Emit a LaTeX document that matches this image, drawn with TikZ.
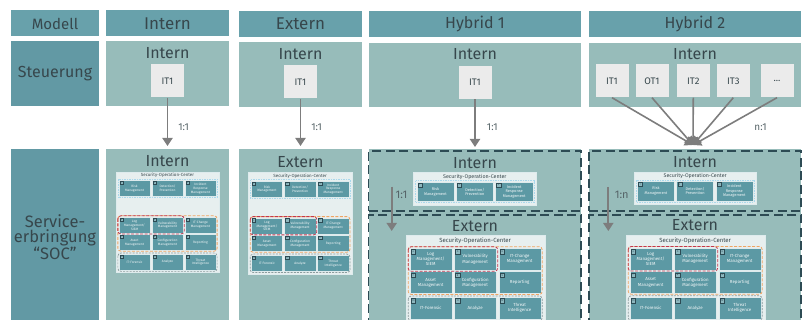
\documentclass[tikz,border=0pt]{standalone}
\usepackage{fontspec}
\setmainfont{Fira Sans}
\usetikzlibrary{arrows.meta}
\definecolor{hdr}{HTML}{68A1AB}
\definecolor{side}{HTML}{6299A4}
\definecolor{lite}{HTML}{97BCBA}
\definecolor{itbox}{HTML}{EBEBEB}
\definecolor{txt}{HTML}{37474C}
\definecolor{arr}{HTML}{7D7D7D}
\definecolor{dashc}{HTML}{2D4B54}
\definecolor{cellc}{HTML}{5C99A4}
\definecolor{socbgc}{HTML}{E7EFEF}
\definecolor{gblue}{HTML}{A9D8EC}
\definecolor{gorange}{HTML}{EFA463}
\definecolor{gred}{HTML}{C2374F}
\definecolor{ggray}{HTML}{8C9C9E}
\tikzset{
 hdrbox/.style={fill=hdr, inner sep=0pt, text=txt, minimum height=26pt},
 sidebox/.style={fill=side, inner sep=0pt, text=txt, align=center},
 litebox/.style={fill=lite, inner sep=0pt},
 itnode/.style={fill=itbox, inner sep=0pt, minimum size=33pt, text=txt, font=\fontsize{9.5}{11}\selectfont},
 ttl/.style={text=txt, inner sep=0pt, font=\fontsize{16}{18}\selectfont},
 ratio/.style={text=txt!85!white, inner sep=0pt, font=\fontsize{10}{12}\selectfont},
 flow/.style={draw=arr, line width=1.9pt, -{Triangle[width=10pt,length=8pt]}},
 flowthin/.style={draw=arr, line width=1.6pt, -{Triangle[width=10pt,length=8pt]}},
 hybbox/.style={draw=dashc, line width=1.6pt, dash pattern=on 9pt off 4.5pt, inner sep=0pt},
 cellbox/.style={fill=cellc, draw=white!80!cellc, line width=0.4pt, inner sep=0pt,
   minimum width=42pt, minimum height=22pt, text=white!92!cellc, align=center,
   font=\fontsize{4.4}{5.2}\selectfont},
 numbox/.style={fill=cellc!70!white, draw=dashc, line width=0.35pt, inner sep=0pt,
   minimum size=4.6pt, text=dashc, font=\fontsize{2.6}{3}\selectfont},
 socbg/.style={fill=socbgc, draw=white!80!cellc, line width=0.4pt, inner sep=0pt, anchor=north west},
 soctitle/.style={text=txt, inner sep=0pt, font=\fontsize{6}{7}\selectfont},
 gbl/.style={draw=gblue, line width=0.7pt, dash pattern=on 1.5pt off 1pt},
 gor/.style={draw=gorange, line width=0.8pt, dash pattern=on 3pt off 1.5pt, rounded corners=3pt},
 gre/.style={draw=gred, line width=0.8pt, dash pattern=on 3pt off 1.5pt, rounded corners=3pt},
 ggr/.style={draw=ggray, line width=0.7pt, dash pattern=on 2pt off 1.2pt, rounded corners=3pt},
}
\newcommand\soccell[5]{%
 \node[cellbox] (#1) at (#2+21,#3+11) {#5};
 \node[numbox] (#1n) at (#2+3.5,#3+3.5) {#4};}
\newcommand\socrowA[2]{%
 \soccell{#1-1}{4}{#2}{1}{Risk\\Management}
 \soccell{#1-2}{48.5}{#2}{2}{Detection/\\Prevention}
 \soccell{#1-3}{93}{#2}{3}{Incident\\Response\\Management}
 \draw[gbl] (2.5,#2-1.5) rectangle (136.5,#2+23.5);}
\newcommand\socrowsB[4]{%
 \soccell{#1-4}{4}{#2}{4}{Log\\Management/\\SIEM}
 \soccell{#1-5}{48.5}{#2}{5}{Vulnerability\\Management}
 \soccell{#1-6}{93}{#2}{6}{IT-Change\\Management}
 \soccell{#1-7}{4}{#3}{7}{Asset\\Management}
 \soccell{#1-8}{48.5}{#3}{8}{Configuration\\Management}
 \soccell{#1-9}{93}{#3}{9}{Reporting}
 \soccell{#1-10}{4}{#4}{10}{IT-Forensic}
 \soccell{#1-11}{48.5}{#4}{11}{Analyze}
 \soccell{#1-12}{93}{#4}{12}{Threat\\Intelligence}
 \draw[gor] (2.5,#2-1.5) rectangle (136.5,#3+22.8);
 \draw[gre] (2.5,#2-1.5) rectangle (92,#2+23);
 \draw[ggr] (2.5,#4-1.2) rectangle (136.5,#4+23.5);}
\begin{document}
\begin{tikzpicture}[x=1pt,y=-1pt]
\useasboundingbox (0,0) rectangle (806,320);
\clip (0,0) rectangle (806,320);
% header row
\node[hdrbox, minimum width=88.6pt, font=\fontsize{15}{17}\selectfont] (hm) at (55,23.5) {Modell};
\node[hdrbox, minimum width=123pt, font=\fontsize{17}{19}\selectfont] (hi) at (167.5,23.5) {Intern};
\node[hdrbox, minimum width=123pt, font=\fontsize{17}{19}\selectfont] (he) at (300.5,24) {Extern};
\node[hdrbox, minimum width=212pt, font=\fontsize{16}{18}\selectfont] (hh1) at (475,24) {Hybrid 1};
\node[hdrbox, minimum width=212pt, font=\fontsize{16}{18}\selectfont] (hh2) at (695,24) {Hybrid 2};
% Steuerung row
\node[sidebox, minimum width=88.6pt, minimum height=65pt, font=\fontsize{16}{18}\selectfont] (st) at (55,74) {Steuerung};
\node[litebox, minimum width=123pt, minimum height=65pt] (s1) at (167.5,74) {};
\node[litebox, minimum width=123pt, minimum height=65pt] (s2) at (300.5,74.5) {};
\node[litebox, minimum width=212pt, minimum height=64pt] (s3) at (475,75) {};
\node[litebox, minimum width=212pt, minimum height=64pt] (s4) at (695,75) {};
\node[ttl] (st1) at (167.5,53.5) {Intern};
\node[ttl] (st2) at (300.5,54) {Intern};
\node[ttl] (st3) at (475,54) {Intern};
\node[ttl] (st4) at (695,54) {Intern};
\node[itnode] (i1) at (167.5,81) {IT1};
\node[itnode] (i2) at (300.5,82) {IT1};
\node[itnode] (i3) at (475,82.5) {IT1};
\node[itnode] (ha) at (612,81) {IT1};
\node[itnode] (hb) at (652,81) {OT1};
\node[itnode] (hc) at (693.3,81) {IT2};
\node[itnode] (hd) at (733.3,81) {IT3};
\node[itnode] (hx) at (777,81) {...};
% bottom row
\node[sidebox, minimum width=88.6pt, minimum height=176pt, font=\fontsize{16.5}{15}\selectfont] (se) at (55,237) {Service-\\erbringung\\“SOC”};
\node[litebox, minimum width=123pt, minimum height=176pt] (b1) at (167.5,237) {};
\node[litebox, minimum width=123pt, minimum height=176pt] (b2) at (300.5,237) {};
\node[litebox, minimum width=212pt, minimum height=176pt] (b3) at (475,237) {};
\node[litebox, minimum width=212pt, minimum height=176pt] (b4) at (695,237) {};
\node[ttl] (bt1) at (167.5,161) {Intern};
\node[ttl] (bt2) at (300.5,162) {Extern};
% hybrid dashed boxes
\node[hybbox, minimum width=212.5pt, minimum height=60pt] (h1i) at (474.8,181) {};
\node[hybbox, minimum width=212.5pt, minimum height=120pt] (h1e) at (474.8,275) {};
\node[hybbox, minimum width=212.5pt, minimum height=60pt] (h2i) at (695,181) {};
\node[hybbox, minimum width=212.5pt, minimum height=120pt] (h2e) at (695,275) {};
\node[ttl] (h1it) at (475,162.7) {Intern};
\node[ttl] (h1et) at (475,226) {Extern};
\node[ttl] (h2it) at (695,162.5) {Intern};
\node[ttl] (h2et) at (695,225.5) {Extern};
% SOC col 1
\begin{scope}[shift={(116,171.7)},scale=0.741,transform shape]
 \node[socbg, minimum width=139pt, minimum height=136pt] (soc1) at (0,0) {};
 \node[soctitle] (soc1t) at (69.5,5) {Security-Operation-Center};
 \socrowA{a}{11.5}
 \socrowsB{a}{61}{84.5}{111}
\end{scope}
% SOC col 2
\begin{scope}[shift={(248.3,172.3)},scale=0.745,transform shape]
 \node[socbg, minimum width=139pt, minimum height=136pt] (soc2) at (0,0) {};
 \node[soctitle] (soc2t) at (69.5,5) {Security-Operation-Center};
 \socrowA{b}{11.5}
 \socrowsB{b}{61}{84.5}{111}
\end{scope}
% Hybrid 1 intern
\begin{scope}[shift={(413.3,172.3)},scale=0.885,transform shape]
 \node[socbg, minimum width=139pt, minimum height=36.5pt] (soc3) at (0,0) {};
 \node[soctitle] (soc3t) at (69.5,5) {Security-Operation-Center};
 \socrowA{c}{11}
\end{scope}
% Hybrid 2 intern
\begin{scope}[shift={(634,171.7)},scale=0.88,transform shape]
 \node[socbg, minimum width=139pt, minimum height=36.5pt] (soc4) at (0,0) {};
 \node[soctitle] (soc4t) at (69.5,5) {Security-Operation-Center};
 \socrowA{d}{11}
\end{scope}
% Hybrid 1 extern
\begin{scope}[shift={(405.7,235.2)}]
 \node[socbg, minimum width=139pt, minimum height=100pt] (soc5) at (0,0) {};
 \node[soctitle] (soc5t) at (69.5,5.5) {Security-Operation-Center};
 \socrowsB{e}{13}{36.5}{62}
\end{scope}
% Hybrid 2 extern
\begin{scope}[shift={(625.7,235)}]
 \node[socbg, minimum width=139pt, minimum height=100pt] (soc6) at (0,0) {};
 \node[soctitle] (soc6t) at (69.5,5.5) {Security-Operation-Center};
 \socrowsB{f}{13}{36.5}{62}
\end{scope}
% arrows
\coordinate (e1) at (167.5,146);
\coordinate (e2) at (300.5,146);
\coordinate (e3) at (475,147);
\coordinate (e4) at (693,145);
\draw[flow] (i1) -- (e1);
\draw[flow] (i2) -- (e2);
\draw[flow] (i3) -- (e3);
\draw[flowthin] (ha.south) -- (e4);
\draw[flowthin] (hb.south) -- (e4);
\draw[flowthin] (hc.south) -- (e4);
\draw[flowthin] (hd.south) -- (e4);
\draw[flowthin] (hx.south) -- (e4);
\node[ratio] (r1) at (183.7,127) {1:1};
\node[ratio] (r2) at (316.7,127.5) {1:1};
\node[ratio] (r3) at (492.3,127.5) {1:1};
\node[ratio] (r4) at (760.5,127.5) {n:1};
\coordinate (x1s) at (391.7,186.7);
\coordinate (x1e) at (391.7,231);
\coordinate (x2s) at (608.3,187);
\coordinate (x2e) at (608.3,231);
\draw[flow] (x1s) -- (x1e);
\draw[flow] (x2s) -- (x2e);
\node[ratio, font=\fontsize{11}{13}\selectfont] (r5) at (401.5,195) {1:1};
\node[ratio, font=\fontsize{11}{13}\selectfont] (r6) at (621.7,194.5) {1:n};
\end{tikzpicture}
\end{document}
